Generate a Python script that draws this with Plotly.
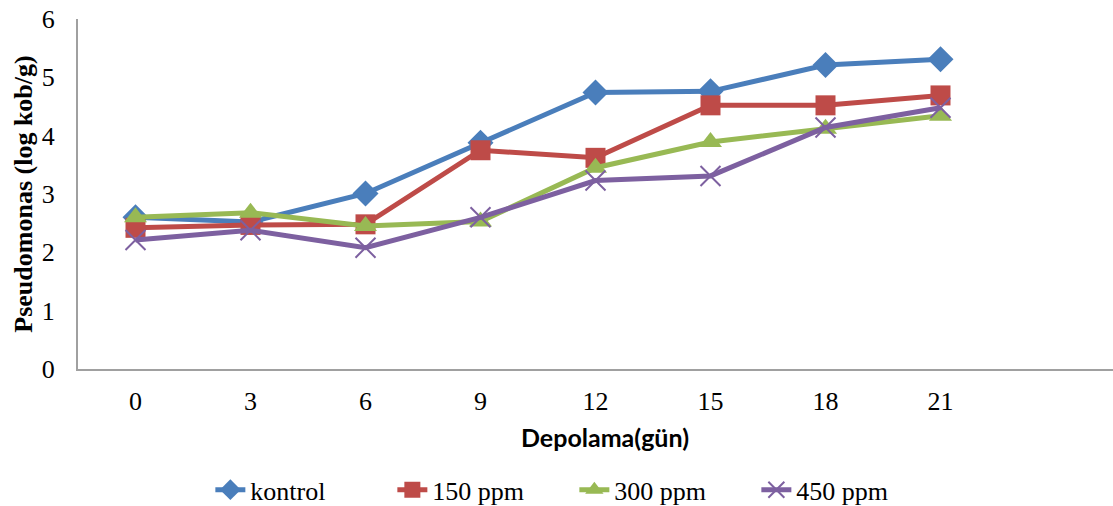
import plotly.graph_objects as go

days = ["0", "3", "6", "9", "12", "15", "18", "21"]
kontrol = [2.60, 2.52, 3.01, 3.88, 4.74, 4.76, 5.21, 5.31]
ppm150 = [2.42, 2.47, 2.48, 3.75, 3.62, 4.52, 4.52, 4.69]
ppm300 = [2.60, 2.68, 2.45, 2.53, 3.45, 3.89, 4.12, 4.34]
ppm450 = [2.21, 2.38, 2.08, 2.60, 3.23, 3.31, 4.14, 4.48]

names = ["kontrol", "150 ppm", "300 ppm", "450 ppm"]
series = [kontrol, ppm150, ppm300, ppm450]
colors = ["#4A7EBB", "#BE4B48", "#98B954", "#7D60A0"]
symbols = ["diamond", "square", "triangle-up", "x-thin"]

fig = go.Figure()
for n, s, c, sym in zip(names, series, colors, symbols):
    marker = dict(symbol=sym, size=20, color=c)
    if sym == "x-thin":
        marker["line"] = dict(color=c, width=2)
    else:
        marker["line"] = dict(width=0)
    fig.add_trace(go.Scatter(x=days, y=s, name=n, mode="lines+markers",
                             line=dict(color=c, width=5), marker=marker))

serif = "Liberation Serif"
fig.update_layout(
    width=1113, height=506,
    margin=dict(l=78, r=0, t=19, b=137),
    plot_bgcolor="white", paper_bgcolor="white",
    font=dict(family=serif, size=26, color="black"),
    showlegend=True,
    legend=dict(orientation="h", x=0.189, xanchor="left",
                xref="container", yref="container", y=0.032, yanchor="middle",
                font=dict(family=serif, size=26),
                entrywidth=137, entrywidthmode="pixels",
                tracegroupgap=0),
    annotations=[dict(text="<b>Depolama(gün)</b>", xref="paper", yref="paper",
                      x=0.509, y=-0.195, xanchor="center", yanchor="middle",
                      showarrow=False,
                      font=dict(family="Lato, Liberation Sans", size=25, color="black"))],
)
fig.update_xaxes(type="category", range=[-0.5, 8.5], showgrid=False, zeroline=False,
                 showline=True, linecolor="#A0A0A0", linewidth=2, ticks="",
                 ticklabelstandoff=8, automargin=False,
                 tickfont=dict(family=serif, size=26))
fig.update_yaxes(range=[0, 6], dtick=1, showgrid=False, zeroline=False,
                 showline=True, linecolor="#A0A0A0", linewidth=2, ticks="",
                 ticklabelstandoff=16, automargin=False,
                 tickfont=dict(family=serif, size=26),
                 title=dict(text="<b>Pseudomonas (log kob/g)</b>",
                            font=dict(family=serif, size=26),
                            standoff=2))

fig.write_html("out.html")
